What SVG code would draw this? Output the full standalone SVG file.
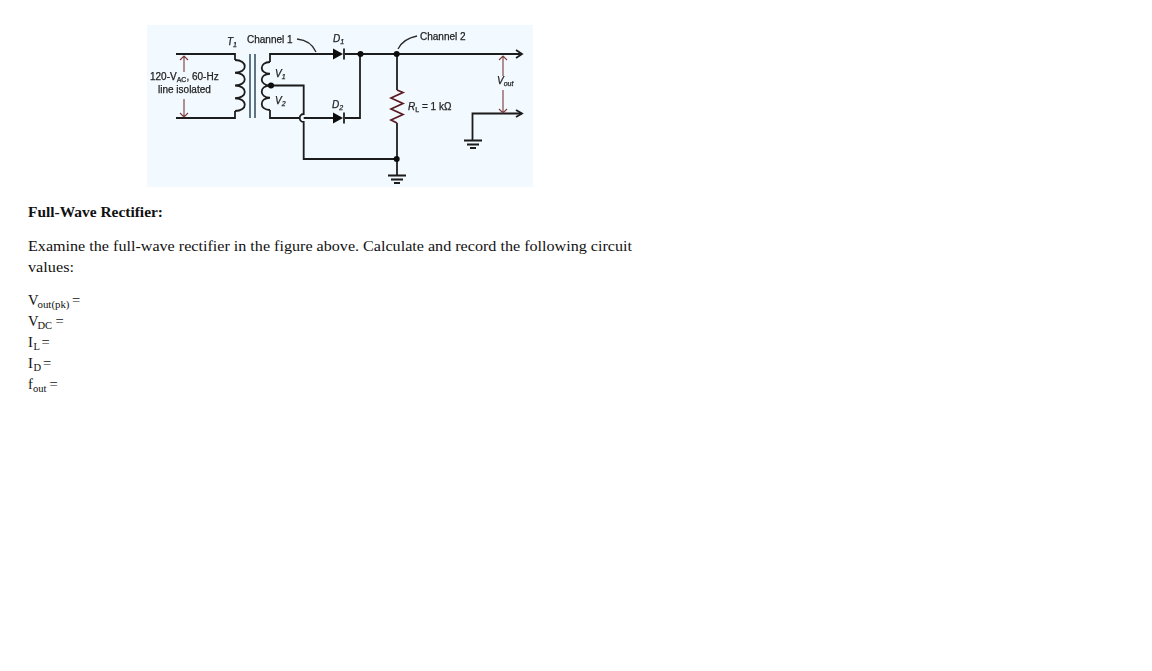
<svg xmlns="http://www.w3.org/2000/svg" width="1152" height="671" viewBox="0 0 1152 671">
<defs><filter id="soft" x="-2%" y="-2%" width="104%" height="104%"><feGaussianBlur stdDeviation="0.35"/></filter></defs>
<style>
.w{fill:none;stroke:#1c1c1c;stroke-width:1.8}
.c{fill:none;stroke:#2a2a2a;stroke-width:1.3}
.b{fill:none;stroke:#2d4a5e;stroke-width:1.5}
.r{fill:none;stroke:#7a3a3a;stroke-width:1.1}
.rz{fill:none;stroke:#5a1a20;stroke-width:1.7}
.s{font-family:"Liberation Sans",Arial,sans-serif;font-size:10px;fill:#222;stroke:#222;stroke-width:.25}
.i{font-style:italic}
.sub{font-size:7px}
.t{font-family:"Liberation Serif",serif;font-size:14.6px;fill:#111}
.u{font-size:10.5px}
.d{fill:#111}
</style>
<rect width="1152" height="671" fill="#fff"/>
<g id="figure-bg"><rect x="147" y="25" width="386" height="162" fill="#f3faff"/></g>
<g filter="url(#soft)">
<g id="connectors">
<path class="w" d="M176 54H235V60M235 111V118H176"/>
<path class="w" d="M270 62V54H333M345 54H522"/>
<path class="w" d="M270 110V118H300M303.700 118H333M345 118H360V54"/>
<path class="w" d="M271 85.500H303.700V114A4 4 0 0 0 303.700 122V159H397"/>
<path class="w" d="M397 54V90M397 123V175"/>
<path class="w" d="M522 113.500H472.500V140"/>
<path class="w" d="M516 50L522 54L516 58M516 110L522 113.500L516 117"/>
<path class="c" d="M297 39C307 40 313 45 316 52M398 49C401 43 407 38 417 36"/>
<path class="r" d="M184 56V72M180 60L184 56L188 60M184 99V117M180 113L184 117L188 113"/>
<path class="r" d="M503 56V76M499 60L503 56L507 60M503 90V113M499 109L503 113L507 109"/>
</g>
<g id="T1">
<path class="w" d="M235 60C248 60 248 72.750 235 72.750C248 72.750 248 85.500 235 85.500C248 85.500 248 98.250 235 98.250C248 98.250 248 111 235 111"/>
<path class="b" d="M250 54V118M255 54V118"/>
<path class="w" d="M270 62C259 62 259 73.750 270 73.750C259 73.750 259 85.500 270 85.500C259 85.500 259 97.750 270 97.750C259 97.750 259 110 270 110"/>
<circle class="d" cx="271" cy="85.500" r="3"/>
</g>
<g id="D1"><path class="d" d="M333 48.500L343 54L333 59.500Z"/><path class="w" d="M344 48.500V59.500"/></g>
<g id="D2"><path class="d" d="M333 112.500L343 118L333 123.500Z"/><path class="w" d="M344 112.500V123.500"/></g>
<g id="RL"><path class="rz" d="M397 90L403 92.500L391 98L403 103.500L391 109L403 114.500L391 120L397 123"/></g>
<g id="nodes">
<circle class="d" cx="360.500" cy="54" r="3"/><circle class="d" cx="396.700" cy="54" r="3"/><circle class="d" cx="396.700" cy="159" r="3"/>
</g>
<g id="grounds">
<path class="w" d="M388 175.500H406M391 179.500H403M394 183H400"/>
<path class="w" d="M464 140.500H482M467 144.500H479M470 148H476"/>
</g>
<g id="labels">
<text class="s i" x="227" y="45">T<tspan class="sub" dy="2">1</tspan></text>
<text class="s" x="247" y="43">Channel 1</text>
<text class="s i" x="333" y="42">D<tspan class="sub" dy="2">1</tspan></text>
<text class="s" x="420" y="40">Channel 2</text>
<text class="s" x="150" y="80">120-V<tspan class="sub" dy="2">AC</tspan><tspan dy="-2">, 60-Hz</tspan></text>
<text class="s" x="158" y="93">line isolated</text>
<text class="s i" x="275" y="77">V<tspan class="sub" dy="2">1</tspan></text>
<text class="s i" x="275" y="104">V<tspan class="sub" dy="2">2</tspan></text>
<text class="s i" x="332" y="108">D<tspan class="sub" dy="2">2</tspan></text>
<text class="s" x="408" y="110"><tspan class="i">R</tspan><tspan class="sub" dy="2">L</tspan><tspan dy="-2"> = 1 kΩ</tspan></text>
<text class="s i" x="497" y="84">V<tspan class="sub" dy="2">out</tspan></text>
</g>
</g>
<g id="text">
<text class="t" x="28" y="217" font-weight="bold" textLength="135" lengthAdjust="spacingAndGlyphs">Full-Wave Rectifier:</text>
<text class="t" x="28" y="251" textLength="604" lengthAdjust="spacingAndGlyphs">Examine the full-wave rectifier in the figure above. Calculate and record the following circuit</text>
<text class="t" x="28" y="272" textLength="46" lengthAdjust="spacingAndGlyphs">values:</text>
<text class="t" x="28" y="305">V<tspan class="u" dy="2.500" x="37.500" textLength="32" lengthAdjust="spacingAndGlyphs">out(pk)</tspan><tspan x="72" dy="-2.500">=</tspan></text>
<text class="t" x="28" y="326">V<tspan class="u" dy="2.500" x="37.500">DC</tspan><tspan x="55.500" dy="-2.500">=</tspan></text>
<text class="t" x="28" y="347">I<tspan class="u" dy="2.500" x="33.500">L</tspan><tspan x="41.500" dy="-2.500">=</tspan></text>
<text class="t" x="28" y="368">I<tspan class="u" dy="2.500" x="33.500">D</tspan><tspan x="43" dy="-2.500">=</tspan></text>
<text class="t" x="28" y="389">f<tspan class="u" dy="2.500" x="33">out</tspan><tspan x="49.500" dy="-2.500">=</tspan></text>
</g>
</svg>
